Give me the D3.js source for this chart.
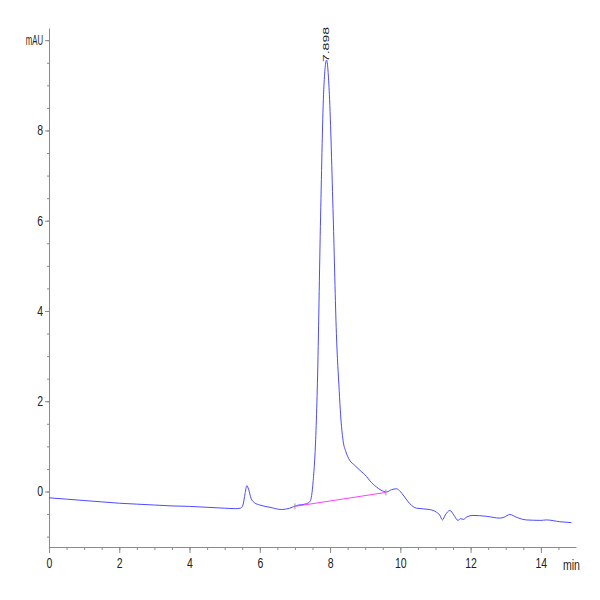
<!DOCTYPE html>
<meta charset="utf-8">
<style>
body { margin: 0; background: #fff; }
.tick text { font-family: "Liberation Sans", Arial, sans-serif; font-size: 14px; fill: #222; }
.domain, .tick line { stroke: #8a8a8a; }
</style>
<body>
<script src="https://d3js.org/d3.v7.min.js"></script>
<script>

// retention time (min) and absorbance (mAU)
var times = [0, 0.5, 1.0, 1.5, 2.0, 2.5, 3.0, 3.5, 4.0, 4.5, 5.0, 5.3, 5.45, 5.52, 5.58, 5.63, 5.68, 5.75, 5.85, 6.0,
  6.29, 6.62, 6.85, 7.05, 7.33, 7.43, 7.52, 7.60, 7.64, 7.73, 7.82, 7.90, 7.98, 8.09, 8.18, 8.26, 8.30, 8.37, 8.45, 8.56,
  8.70, 8.85, 9.04, 9.13, 9.32, 9.45, 9.61, 9.75, 9.89, 10.0, 10.1, 10.27, 10.46, 10.84, 11.03, 11.12, 11.20, 11.28, 11.41, 11.52,
  11.64, 11.72, 11.79, 11.9, 12.07, 12.45, 12.83, 12.95, 13.12, 13.30, 13.59, 14.0, 14.16, 14.54, 14.87];
var mAU = [-0.14, -0.17, -0.20, -0.23, -0.26, -0.28, -0.30, -0.32, -0.33, -0.35, -0.37, -0.38, -0.37, -0.30, -0.05, 0.13, 0.05, -0.15, -0.25, -0.30,
  -0.35, -0.40, -0.37, -0.31, -0.27, -0.22, 0.24, 1.35, 2.4, 6.08, 8.9, 9.56, 8.8, 6.08, 3.5, 2.24, 1.7, 1.13, 0.88, 0.69,
  0.58, 0.47, 0.33, 0.24, 0.10, 0.03, -0.01, 0.04, 0.06, 0.00, -0.10, -0.27, -0.37, -0.40, -0.46, -0.52, -0.63, -0.52, -0.42, -0.52,
  -0.64, -0.60, -0.62, -0.56, -0.53, -0.55, -0.59, -0.57, -0.51, -0.57, -0.63, -0.64, -0.63, -0.67, -0.69];

// integration baseline under the main peak
var baseTimes = [7.0, 9.59];
var baseValues = [-0.33, -0.02];

var peakTime = 7.898, peakHeight = 9.56, peakLabel = "7.898";

var yTicks = [0, 2, 4, 6, 8, 10];
var xTicks = [0, 2, 4, 6, 8, 10, 12, 14];

var width = 600, height = 600;

var x = d3.scaleLinear().domain([0, 15]).range([49, 576]);
var y = d3.scaleLinear().domain([-1.23, 10.27]).range([547, 28]);

var svg = d3.select("body").append("svg")
    .attr("width", width)
    .attr("height", height);

// minor ticks every 0.5
svg.append("g")
    .attr("transform", "translate(" + x(0) + ",0)")
    .call(d3.axisLeft(y).tickValues(d3.range(-1, 10.01, 0.5)).tickSize(2).tickFormat(""))
    .call(function(g) { g.select(".domain").remove(); });
svg.append("g")
    .attr("transform", "translate(0," + y(-1.23) + ")")
    .call(d3.axisBottom(x).tickValues(d3.range(0.5, 15, 0.5)).tickSize(3).tickFormat(""))
    .call(function(g) { g.select(".domain").remove(); });

// Y axis
svg.append("g")
    .attr("transform", "translate(" + x(0) + ",0)")
    .call(d3.axisLeft(y).tickValues(yTicks).tickSize(4).tickSizeOuter(0)
      .tickFormat(function(d) { return d === 10 ? "mAU" : d; }))
    .call(function(g) {
      g.selectAll(".tick text").attr("x", -8).attr("transform", "scale(0.75,1)");
      g.selectAll(".tick text").filter(function(d) { return d === 10; })
        .attr("textLength", 23).attr("lengthAdjust", "spacingAndGlyphs");
    });

// X axis
svg.append("g")
    .attr("transform", "translate(0," + y(-1.23) + ")")
    .call(d3.axisBottom(x).tickValues(xTicks).tickSize(6).tickSizeOuter(0))
    .call(function(g) { g.selectAll(".tick text").attr("y", 11).attr("transform", "scale(0.75,1)"); });

svg.append("text")
    .attr("transform", "translate(563,570) scale(0.75,1)")
    .style("font-family", "'Liberation Sans', Arial, sans-serif")
    .style("font-size", "14px")
    .style("fill", "#222")
    .text("min");

// the trace
var pts = times.map(function(t, i) { return [t, mAU[i]]; });
var line = d3.line()
    .x(function(d) { return x(d[0]); })
    .y(function(d) { return y(d[1]); })
    .curve(d3.curveMonotoneX);

svg.append("path")
    .datum(pts)
    .attr("fill", "none")
    .attr("stroke", "#4b4bff")
    .attr("stroke-width", 1)
    .attr("d", line);

// baseline and peak limits
svg.append("line")
    .attr("x1", x(baseTimes[0])).attr("y1", y(baseValues[0]))
    .attr("x2", x(baseTimes[1])).attr("y2", y(baseValues[1]))
    .attr("stroke", "#ff40ff")
    .attr("stroke-width", 1);

baseTimes.forEach(function(t, i) {
  svg.append("line")
      .attr("x1", x(t)).attr("x2", x(t))
      .attr("y1", y(baseValues[i]) - 3).attr("y2", y(baseValues[i]) + 3)
      .attr("stroke", "#999");
});

// retention time label
svg.append("text")
    .attr("transform", "translate(" + (x(peakTime) + 3) + "," + (y(peakHeight) + 2) + ") rotate(-90)")
    .attr("textLength", 35)
    .attr("lengthAdjust", "spacingAndGlyphs")
    .style("font-family", "'Liberation Sans', Arial, sans-serif")
    .style("font-size", "9px")
    .style("fill", "#222")
    .text(peakLabel);

</script>
</body>
